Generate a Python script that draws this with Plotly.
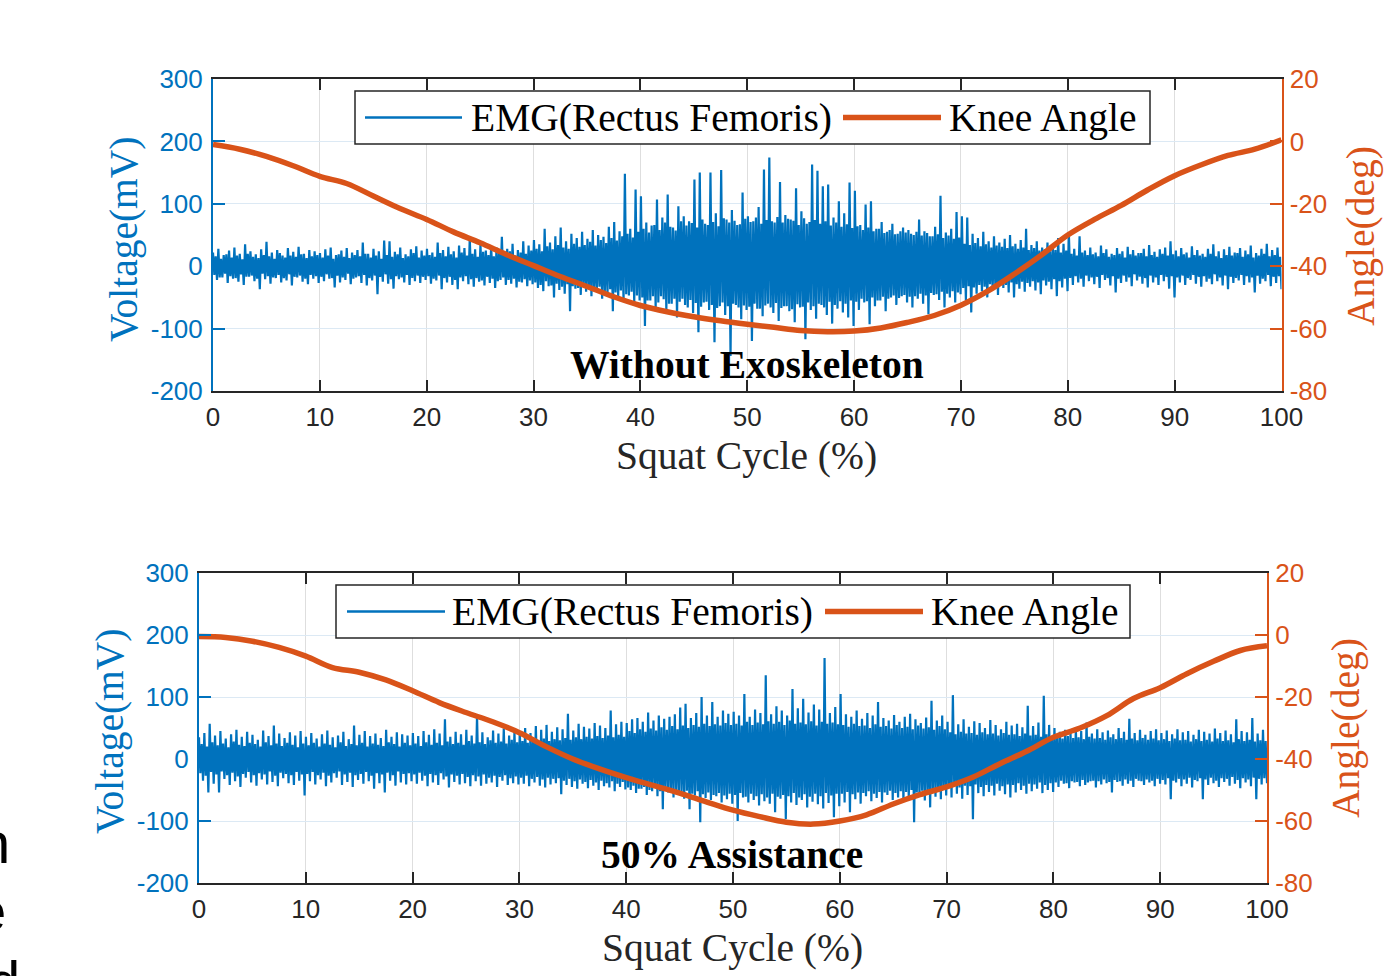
import numpy as np
import plotly.graph_objects as go

W, H = 1384, 976


def px(x):
    return x / W


def py(y):
    return 1 - y / H


BLUE = "#0072BD"
ORANGE = "#D95319"
DARK = "#262626"
SERIF = "Liberation Serif, Times New Roman, serif"
SANS = "Liberation Sans, Arial, sans-serif"
SERIF_SIZE = 39.5

# ---------------- data ----------------
cycle_ticks = [0, 10, 20, 30, 40, 50, 60, 70, 80, 90, 100]
cycle_labels = ["0", "10", "20", "30", "40", "50", "60", "70", "80", "90", "100"]
volt_ticks = [-200, -100, 0, 100, 200, 300]
volt_labels = ["-200", "-100", "0", "100", "200", "300"]
angle_ticks = [-80, -60, -40, -20, 0, 20]
angle_labels = ["-80", "-60", "-40", "-20", "0", "20"]

angle_x = [0, 2.5, 5, 7.5, 10, 12.5, 15, 17.5, 20, 22.5, 25, 27.5, 30, 32.5, 35, 37.5, 40,
           42.5, 45, 47.5, 50, 52.5, 55, 57.5, 60, 62.5, 65, 67.5, 70, 72.5, 75, 77.5, 80,
           82.5, 85, 87.5, 90, 92.5, 95, 97.5, 100]

knee_top = [-1.0, -2.5, -4.8, -7.8, -11.2, -13.5, -17.5, -21.5, -25.0, -29.0, -32.5, -36.3,
            -39.8, -43.3, -46.5, -49.8, -52.6, -54.6, -56.2, -57.5, -58.6, -59.6, -60.6,
            -61.0, -60.8, -59.8, -58.0, -55.8, -52.5, -48.0, -42.5, -36.5, -30.0, -25.0,
            -20.5, -15.5, -11.0, -7.5, -4.5, -2.5, 0.5]

knee_bot = [-0.5, -0.8, -2.0, -4.0, -6.8, -10.5, -12.0, -14.5, -18.0, -21.8, -25.0, -28.0,
            -31.5, -36.0, -40.0, -43.2, -46.0, -48.5, -51.0, -53.8, -56.5, -58.6, -60.4,
            -61.0, -60.0, -58.0, -54.5, -51.5, -49.0, -45.8, -41.5, -37.5, -33.0, -30.0,
            -26.0, -20.5, -17.0, -12.5, -8.5, -5.0, -3.5]

# EMG read as alternating excursions (mV): outer peaks (a) and inner-band samples (b),
# 200 of each per panel, one of each every 0.5 % of the cycle
emg_top_pos_a = [
    22, 28, 18, 25, 30, 20, 35, 24, 19, 27, 39, 22, 26, 17, 29, 23, 31, 20, 26, 24,
    21, 27, 30, 18, 25, 29, 22, 26, 38, 20, 28, 24, 41, 40, 23, 30, 19, 27, 32, 25,
    28, 22, 38, 26, 31, 24, 33, 29, 45, 27, 35, 25, 32, 30, 47, 28, 36, 26, 40, 33,
    42, 35, 60, 38, 48, 62, 40, 52, 45, 55, 44, 58, 50, 47, 63, 71, 56, 148, 60, 123,
    112, 70, 65, 107, 78, 115, 62, 96, 80, 72, 139, 150, 68, 150, 85, 154, 75, 90, 66, 118,
    80, 72, 95, 155, 174, 70, 135, 82, 75, 125, 88, 68, 163, 153, 128, 131, 78, 104, 85, 134,
    121, 66, 99, 104, 60, 71, 55, 68, 52, 62, 58, 50, 75, 56, 48, 63, 113, 54, 60, 87,
    80, 78, 52, 45, 55, 40, 48, 38, 44, 50, 36, 42, 60, 34, 40, 30, 38, 33, 45, 36,
    52, 28, 48, 25, 30, 22, 33, 27, 20, 29, 24, 31, 26, 21, 28, 34, 23, 27, 30, 40,
    25, 29, 22, 32, 26, 20, 28, 35, 24, 27, 31, 22, 29, 25, 33, 21, 28, 36, 26, 30]

emg_top_neg_a = [
    -22, -18, -27, -20, -25, -30, -17, -24, -37, -21, -28, -19, -26, -23, -31, -18, -25, -29, -20, -27,
    -24, -20, -34, -26, -22, -29, -18, -27, -31, -23, -45, -25, -28, -36, -21, -26, -30, -24, -27, -22,
    -28, -23, -37, -26, -30, -37, -24, -29, -33, -25, -31, -27, -35, -22, -30, -28, -34, -26, -32, -29,
    -35, -40, -32, -50, -38, -44, -72, -36, -46, -41, -48, -39, -52, -45, -72, -50, -56, -47, -60, -55,
    -96, -55, -68, -48, -72, -60, -82, -52, -66, -75, -106, -58, -70, -122, -64, -78, -144, -62, -85, -70,
    -120, -68, -80, -60, -75, -88, -64, -72, -90, -66, -117, -70, -84, -62, -78, -92, -68, -74, -82, -96,
    -70, -58, -93, -64, -55, -72, -50, -62, -48, -58, -66, -52, -60, -77, -46, -54, -66, -50, -58, -45,
    -55, -74, -44, -40, -50, -38, -46, -35, -42, -50, -36, -41, -33, -39, -45, -31, -37, -48, -34, -40,
    -30, -26, -33, -24, -29, -35, -22, -31, -42, -27, -25, -32, -23, -28, -34, -26, -30, -24, -36, -50,
    -26, -30, -22, -28, -33, -25, -29, -24, -31, -37, -27, -23, -30, -26, -42, -28, -24, -32, -27, -37]

emg_top_pos_b = [
    16, 12, 19, 14, 17, 11, 20, 15, 13, 18, 16, 12, 21, 14, 17, 15, 19, 13, 16, 18,
    14, 17, 12, 19, 15, 13, 18, 16, 20, 14, 17, 12, 18, 15, 19, 13, 16, 21, 14, 17,
    18, 15, 21, 16, 19, 14, 22, 17, 20, 15, 23, 18, 16, 21, 19, 24, 17, 22, 20, 25,
    28, 24, 32, 27, 34, 30, 28, 36, 31, 34, 39, 33, 42, 37, 45, 41, 48, 52, 46, 55,
    60, 54, 66, 58, 70, 63, 57, 72, 65, 69, 62, 75, 66, 71, 64, 77, 70, 73, 67, 76,
    71, 78, 68, 74, 72, 79, 70, 76, 73, 66, 77, 71, 74, 68, 72, 65, 70, 63, 67, 61,
    64, 58, 62, 56, 60, 53, 58, 51, 56, 54, 52, 55, 49, 53, 48, 51, 45, 49, 44, 46,
    36, 34, 37, 32, 35, 30, 33, 31, 29, 32, 28, 30, 26, 29, 25, 27, 24, 26, 22, 25,
    20, 17, 22, 18, 19, 16, 21, 15, 18, 20, 14, 19, 17, 21, 16, 18, 15, 20, 17, 19,
    16, 19, 14, 18, 17, 15, 20, 16, 13, 18, 17, 21, 15, 19, 14, 17, 20, 16, 18, 15]

emg_top_neg_b = [
    -14, -18, -12, -16, -19, -13, -17, -15, -20, -12, -16, -18, -14, -19, -13, -17, -15, -20, -14, -16,
    -17, -13, -19, -15, -18, -12, -20, -16, -14, -19, -15, -17, -13, -21, -16, -18, -14, -19, -15, -17,
    -16, -20, -15, -19, -17, -22, -18, -16, -21, -19, -23, -17, -20, -24, -18, -22, -20, -25, -21, -23,
    -26, -30, -24, -31, -28, -33, -29, -32, -35, -30, -34, -38, -33, -40, -37, -42, -39, -45, -41, -47,
    -50, -55, -48, -58, -53, -60, -52, -57, -62, -54, -59, -65, -57, -62, -67, -58, -64, -60, -66, -63,
    -65, -60, -68, -63, -66, -59, -67, -64, -69, -61, -65, -58, -64, -60, -66, -57, -62, -56, -60, -55,
    -57, -52, -56, -50, -55, -49, -52, -47, -51, -46, -49, -48, -44, -47, -43, -45, -41, -44, -40, -42,
    -35, -32, -34, -30, -33, -29, -31, -28, -30, -26, -29, -25, -27, -24, -26, -23, -25, -21, -24, -20,
    -19, -16, -20, -15, -18, -17, -14, -19, -16, -20, -15, -18, -13, -17, -19, -15, -18, -14, -17, -16,
    -18, -15, -19, -14, -17, -16, -20, -13, -18, -15, -17, -19, -14, -16, -18, -15, -20, -14, -17, -16]

emg_bot_pos_a = [
    35, 42, 57, 38, 45, 33, 40, 47, 36, 44, 39, 31, 46, 37, 54, 41, 34, 43, 38, 45,
    36, 42, 33, 40, 46, 35, 38, 44, 32, 54, 39, 45, 37, 41, 34, 47, 36, 43, 40, 38,
    42, 37, 45, 39, 48, 41, 64, 36, 44, 40, 47, 38, 70, 43, 35, 46, 41, 49, 38, 44,
    45, 50, 42, 53, 47, 55, 44, 51, 48, 73, 46, 57, 52, 49, 58, 54, 50, 78, 56, 60,
    58, 64, 66, 60, 75, 62, 70, 65, 68, 72, 83, 89, 66, 74, 100, 70, 92, 68, 78, 73,
    76, 70, 105, 68, 80, 74, 135, 72, 85, 78, 70, 113, 82, 97, 75, 88, 80, 163, 74, 84,
    105, 72, 68, 78, 65, 74, 70, 92, 66, 62, 71, 60, 68, 73, 64, 58, 67, 94, 62, 70,
    60, 103, 56, 64, 52, 61, 58, 50, 63, 55, 48, 60, 54, 57, 51, 86, 53, 59, 102, 55,
    50, 44, 47, 42, 49, 45, 59, 41, 48, 43, 46, 40, 50, 44, 65, 42, 47, 39, 45, 48,
    42, 46, 40, 48, 43, 45, 39, 47, 44, 41, 49, 42, 46, 40, 64, 45, 43, 66, 41, 47]

emg_bot_neg_a = [
    -35, -54, -40, -54, -32, -42, -36, -45, -30, -38, -43, -33, -41, -37, -44, -31, -39, -42, -35, -59,
    -36, -41, -33, -44, -38, -30, -42, -37, -45, -34, -40, -36, -48, -39, -54, -35, -43, -38, -41, -36,
    -40, -35, -44, -38, -42, -33, -46, -37, -41, -39, -44, -36, -43, -40, -38, -45, -35, -42, -39, -41,
    -40, -44, -38, -43, -46, -41, -39, -57, -42, -45, -48, -40, -47, -43, -50, -44, -46, -52, -45, -49,
    -50, -55, -48, -58, -52, -60, -81, -54, -62, -57, -64, -81, -59, -102, -63, -66, -60, -70, -65, -72,
    -100, -62, -70, -66, -75, -68, -72, -86, -64, -97, -70, -74, -66, -78, -69, -73, -80, -71, -94, -76,
    -70, -86, -65, -72, -60, -68, -63, -70, -58, -66, -62, -69, -64, -102, -60, -67, -78, -61, -65, -59,
    -62, -56, -64, -58, -97, -55, -60, -53, -59, -51, -57, -62, -54, -50, -56, -52, -48, -55, -50, -53,
    -45, -40, -47, -38, -44, -42, -36, -46, -41, -39, -54, -37, -43, -40, -45, -35, -42, -38, -44, -40,
    -41, -65, -38, -44, -40, -46, -36, -65, -42, -39, -45, -37, -43, -40, -47, -38, -44, -65, -41, -39]

emg_bot_pos_b = [
    24, 20, 27, 22, 25, 19, 28, 23, 21, 26, 24, 20, 27, 22, 25, 21, 26, 23, 19, 25,
    22, 26, 20, 25, 23, 19, 27, 21, 24, 22, 26, 20, 25, 23, 21, 27, 24, 20, 26, 22,
    25, 21, 27, 23, 26, 22, 28, 24, 26, 23, 29, 25, 27, 24, 30, 26, 28, 25, 31, 27,
    29, 26, 31, 28, 33, 29, 32, 30, 34, 31, 35, 32, 36, 33, 37, 34, 38, 35, 39, 36,
    45, 42, 48, 44, 49, 46, 51, 47, 53, 48, 54, 50, 55, 52, 57, 53, 56, 54, 58, 55,
    57, 54, 60, 55, 59, 56, 61, 57, 60, 55, 62, 57, 59, 56, 61, 54, 60, 57, 59, 56,
    55, 52, 57, 53, 54, 50, 56, 52, 53, 49, 55, 50, 52, 48, 54, 49, 51, 47, 53, 48,
    43, 40, 44, 41, 42, 39, 43, 40, 41, 38, 42, 39, 40, 37, 41, 38, 39, 36, 40, 37,
    36, 33, 37, 34, 35, 32, 36, 33, 34, 31, 35, 32, 34, 31, 33, 30, 34, 31, 33, 30,
    32, 29, 33, 30, 31, 28, 32, 29, 31, 28, 33, 29, 30, 27, 32, 29, 31, 28, 30, 29]

emg_bot_neg_b = [
    -23, -27, -21, -25, -20, -26, -22, -28, -24, -21, -26, -23, -25, -20, -27, -22, -24, -26, -21, -25,
    -24, -21, -26, -22, -27, -23, -20, -25, -22, -26, -24, -21, -27, -23, -25, -22, -26, -20, -24, -23,
    -25, -22, -27, -24, -26, -23, -28, -25, -27, -24, -29, -26, -28, -25, -30, -27, -29, -26, -31, -28,
    -30, -27, -32, -29, -33, -30, -32, -31, -35, -32, -36, -33, -37, -34, -38, -35, -39, -36, -40, -37,
    -46, -43, -48, -45, -50, -46, -52, -47, -53, -50, -54, -51, -56, -52, -57, -54, -58, -55, -59, -56,
    -58, -55, -61, -56, -60, -57, -62, -56, -61, -58, -60, -55, -62, -57, -61, -56, -60, -55, -59, -56,
    -56, -53, -57, -54, -55, -52, -56, -53, -54, -51, -55, -52, -53, -50, -54, -51, -52, -49, -53, -50,
    -45, -42, -46, -43, -44, -41, -45, -42, -43, -40, -44, -41, -42, -39, -43, -40, -41, -38, -42, -39,
    -38, -35, -39, -36, -37, -34, -38, -35, -36, -33, -37, -34, -36, -33, -35, -32, -36, -33, -35, -32,
    -34, -31, -35, -32, -33, -30, -34, -31, -33, -30, -35, -31, -32, -29, -34, -31, -33, -30, -32, -31]

legend_names = ["EMG(Rectus Femoris)", "Knee Angle"]
panel_labels = ["Without Exoskeleton", "50% Assistance"]
x_title = "Squat Cycle (%)"
yl_title = "Voltage(mV)"
yr_title = "Angle(deg)"
edge_text = ["n", "e", "d"]


def weave(pa, na, pb, nb):
    y = np.empty(4 * len(pa))
    y[0::4] = pa
    y[1::4] = nb
    y[2::4] = pb
    y[3::4] = na
    return y


emg_x = np.linspace(0, 100, 4 * len(emg_top_pos_a))

fig = go.Figure()
fig.add_trace(go.Scatter(x=emg_x, y=weave(emg_top_pos_a, emg_top_neg_a, emg_top_pos_b, emg_top_neg_b),
                         mode="lines", line=dict(color=BLUE, width=2.2), name=legend_names[0],
                         xaxis="x", yaxis="y", showlegend=False))
fig.add_trace(go.Scatter(x=angle_x, y=knee_top, mode="lines", line_shape="spline",
                         line=dict(color=ORANGE, width=5.5), name=legend_names[1],
                         xaxis="x", yaxis="y2", showlegend=False))
fig.add_trace(go.Scatter(x=emg_x, y=weave(emg_bot_pos_a, emg_bot_neg_a, emg_bot_pos_b, emg_bot_neg_b),
                         mode="lines", line=dict(color=BLUE, width=2.2), name=legend_names[0],
                         xaxis="x2", yaxis="y3", showlegend=False))
fig.add_trace(go.Scatter(x=angle_x, y=knee_bot, mode="lines", line_shape="spline",
                         line=dict(color=ORANGE, width=5.5), name=legend_names[1],
                         xaxis="x2", yaxis="y4", showlegend=False))

# panel geometry in pixels
panels = [
    dict(xl=213, xr=1281.5, yt=79, yb=391),
    dict(xl=199, xr=1267, yt=573, yb=883),
]


def xaxis_cfg(p, anchor):
    return dict(domain=[px(p["xl"]), px(p["xr"])], anchor=anchor, range=[0, 100],
                tickvals=cycle_ticks, ticktext=cycle_labels, ticks="inside", ticklen=11,
                tickwidth=1.5, tickcolor=DARK, showline=True, linecolor=DARK, linewidth=2,
                mirror="ticks", showgrid=True, gridcolor="#dedede", gridwidth=1,
                zeroline=False, automargin=False,
                tickfont=dict(family=SANS, size=26, color=DARK), ticklabelstandoff=2)


def yleft_cfg(p, anchor):
    return dict(domain=[py(p["yb"]), py(p["yt"])], anchor=anchor, range=[-200, 300],
                tickvals=volt_ticks, ticktext=volt_labels, ticks="inside", ticklen=12,
                tickwidth=1.5, tickcolor=BLUE, showline=True, linecolor=BLUE, linewidth=2,
                showgrid=True, gridcolor="#dce9f4", gridwidth=1, zeroline=False,
                automargin=False,
                tickfont=dict(family=SANS, size=26, color=BLUE), ticklabelstandoff=3)


def yright_cfg(overlay, anchor):
    return dict(overlaying=overlay, side="right", anchor=anchor, range=[-80, 20],
                tickvals=angle_ticks, ticktext=angle_labels, ticks="inside", ticklen=12,
                tickwidth=1.5, tickcolor=ORANGE, showline=True, linecolor=ORANGE, linewidth=2,
                showgrid=False, zeroline=False, automargin=False,
                tickfont=dict(family=SANS, size=26, color=ORANGE), ticklabelstandoff=1)


fig.update_layout(
    width=W, height=H, autosize=False,
    margin=dict(l=0, r=0, t=0, b=0, pad=0, autoexpand=False),
    paper_bgcolor="white", plot_bgcolor="white",
    showlegend=False,
    xaxis=xaxis_cfg(panels[0], "y"),
    yaxis=yleft_cfg(panels[0], "x"),
    yaxis2=yright_cfg("y", "x"),
    xaxis2=xaxis_cfg(panels[1], "y3"),
    yaxis3=yleft_cfg(panels[1], "x2"),
    yaxis4=yright_cfg("y3", "x2"),
)

shapes = []
annotations = []

# legends drawn as box + line samples + labels, at pixel positions
legends = [
    dict(x0=355, x1=1150, y0=91, y1=144, b0=365, b1=462, bt=469, o0=843, o1=941, ot=947),
    dict(x0=336, x1=1130, y0=585, y1=638, b0=347, b1=445, bt=450, o0=825, o1=923, ot=929),
]
for lg in legends:
    yc = (lg["y0"] + lg["y1"]) / 2
    shapes.append(dict(type="rect", xref="paper", yref="paper", layer="above",
                       x0=px(lg["x0"]), x1=px(lg["x1"]), y0=py(lg["y1"]), y1=py(lg["y0"]),
                       fillcolor="white", line=dict(color=DARK, width=1.5)))
    shapes.append(dict(type="line", xref="paper", yref="paper", layer="above",
                       x0=px(lg["b0"]), x1=px(lg["b1"]), y0=py(yc), y1=py(yc),
                       line=dict(color=BLUE, width=2.5)))
    shapes.append(dict(type="line", xref="paper", yref="paper", layer="above",
                       x0=px(lg["o0"]), x1=px(lg["o1"]), y0=py(yc), y1=py(yc),
                       line=dict(color=ORANGE, width=5.5)))
    annotations.append(dict(text=legend_names[0], xref="paper", yref="paper",
                            x=px(lg["bt"]), y=py(yc), xanchor="left", yanchor="middle",
                            showarrow=False, font=dict(family=SERIF, size=SERIF_SIZE, color="black")))
    annotations.append(dict(text=legend_names[1], xref="paper", yref="paper",
                            x=px(lg["ot"]), y=py(yc), xanchor="left", yanchor="middle",
                            showarrow=False, font=dict(family=SERIF, size=SERIF_SIZE, color="black")))

# panel labels
for (cx, cy), txt in zip([(747, 365), (732, 855)], panel_labels):
    annotations.append(dict(text="<b>" + txt + "</b>", xref="paper", yref="paper",
                            x=px(cx), y=py(cy), xanchor="center", yanchor="middle",
                            showarrow=False, font=dict(family=SERIF, size=SERIF_SIZE, color="black")))

# axis titles
for cx, cy in [(747, 456), (732, 948)]:
    annotations.append(dict(text=x_title, xref="paper", yref="paper", x=px(cx), y=py(cy),
                            xanchor="center", yanchor="middle", showarrow=False,
                            font=dict(family=SERIF, size=SERIF_SIZE, color=DARK)))
for cx, cy in [(124, 239), (110, 731)]:
    annotations.append(dict(text=yl_title, xref="paper", yref="paper", x=px(cx), y=py(cy),
                            xanchor="center", yanchor="middle", textangle=-90, showarrow=False,
                            font=dict(family=SERIF, size=SERIF_SIZE, color=BLUE)))
for cx, cy in [(1361, 236), (1346, 728)]:
    annotations.append(dict(text=yr_title, xref="paper", yref="paper", x=px(cx), y=py(cy),
                            xanchor="center", yanchor="middle", textangle=-90, showarrow=False,
                            font=dict(family=SERIF, size=SERIF_SIZE, color=ORANGE)))

# text cut off at the left edge (from the neighbouring page column)
for txt, rx, cy in zip(edge_text, [12, 8, 22], [842, 910, 981]):
    annotations.append(dict(text=txt, xref="paper", yref="paper", x=px(rx), y=py(cy),
                            xanchor="right", yanchor="middle", showarrow=False,
                            font=dict(family=SANS, size=58, color="black")))

fig.update_layout(shapes=shapes, annotations=annotations)

fig.write_html("out.html")
